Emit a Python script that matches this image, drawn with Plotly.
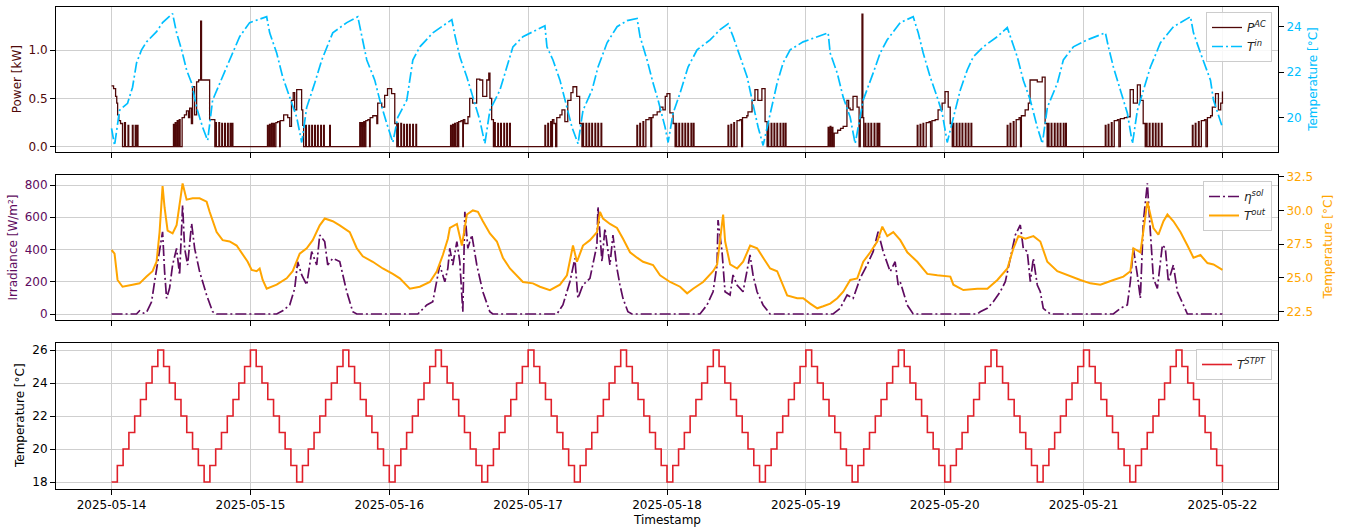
import pandas as pd
import plotly.graph_objects as go

START = pd.Timestamp("2025-05-14 00:00")

# ---------------- data (hours since 2025-05-14 00:00) ----------------
# AC power [kW] (step samples)
p_h = [0.00, 0.35, 0.70, 0.90, 1.05, 1.25, 1.55, 1.90, 2.25, 2.40, 2.85, 2.97, 3.60, 3.72, 4.10, 4.22, 4.45, 4.57,
       10.70, 10.85, 11.00, 11.12, 11.35, 11.47, 11.70, 11.85, 12.20, 12.60, 12.95, 13.30, 13.50, 13.80, 14.00, 14.35,
       14.70, 15.05, 15.40, 15.55, 16.95, 17.85, 18.00, 18.12, 18.55, 18.67, 19.05, 19.17, 19.55, 19.67, 20.05, 20.17,
       20.50, 20.62, 20.85, 20.97,
       26.95, 27.07, 27.30, 27.42, 27.65, 27.77, 28.00, 28.15, 28.40, 28.70, 29.05, 29.15, 29.75, 30.45, 30.80, 31.10,
       31.40, 31.65, 32.00, 32.85, 33.05, 33.20, 33.55, 33.67, 34.10, 34.22, 34.60, 34.72, 35.10, 35.22, 35.60, 35.72,
       36.15, 36.27, 36.65, 36.77, 37.70, 37.82,
       42.90, 43.02, 43.25, 43.37, 43.60, 43.72, 43.95, 44.30, 44.60, 44.70, 45.15, 45.85, 46.00, 46.70, 47.20, 47.70,
       48.40, 48.95, 49.30, 49.45, 49.57, 50.00, 50.12, 50.50, 50.62, 51.00, 51.12, 51.50, 51.62, 52.05, 52.17, 52.60,
       52.72,
       58.60, 58.72, 58.95, 59.07, 59.30, 59.42, 59.70, 59.82, 60.00, 60.40, 60.70, 60.80, 61.05, 61.60, 61.90, 62.40,
       63.10, 63.65, 64.15, 64.85, 65.20, 65.40, 65.70, 66.00, 66.20, 66.32, 66.75, 66.87, 67.25, 67.37, 67.80, 67.92,
       68.30, 68.42, 68.80, 68.92,
       74.90, 75.02, 75.40, 75.52, 75.90, 76.02, 76.20, 76.45, 76.75, 76.95, 77.50, 77.85, 78.35, 78.85, 79.40, 79.75,
       80.40, 80.90, 81.30, 81.45, 81.57, 82.00, 82.12, 82.50, 82.62, 83.00, 83.12, 83.55, 83.67, 84.05, 84.17, 84.60,
       84.72,
       90.80, 90.92, 91.30, 91.42, 91.85, 91.97, 92.35, 92.90, 93.20, 93.35, 93.60, 94.30, 94.80, 95.30, 95.70, 96.00,
       96.50, 97.05, 97.40, 97.55, 97.67, 98.05, 98.17, 98.60, 98.72, 99.10, 99.22, 99.60, 99.72, 100.15, 100.27,
       100.55, 100.67,
       106.55, 106.67, 107.05, 107.17, 107.55, 107.67, 108.10, 108.60, 108.90, 109.05, 109.80, 110.00, 110.70, 111.20,
       111.70, 112.40, 112.95, 113.30, 113.45, 113.57, 114.00, 114.12, 114.50, 114.62, 115.00, 115.12, 115.55, 115.67,
       116.05, 116.17, 116.45, 116.57,
       123.85, 123.97, 124.20, 124.32, 124.55, 124.67, 124.90, 125.50, 126.00, 126.45, 127.10, 127.40, 127.65, 128.15,
       128.85, 129.20, 129.40, 129.70, 129.85, 130.00, 130.25, 130.37, 130.75, 130.87, 131.25, 131.37, 131.80, 131.92,
       132.30, 132.42, 132.65, 132.77,
       139.25, 139.37, 139.75, 139.87, 140.25, 140.37, 140.80, 141.30, 141.55, 141.80, 142.35, 142.85, 143.55, 144.05,
       144.60, 144.95, 145.30, 145.45, 145.57, 146.00, 146.12, 146.50, 146.62, 147.00, 147.12, 147.55, 147.67, 148.05,
       148.17, 148.55, 148.67,
       154.80, 154.92, 155.30, 155.42, 155.85, 155.97, 156.35, 156.85, 157.10, 157.25, 157.90, 158.45, 158.75, 160.00,
       160.85, 161.35, 161.70, 161.90, 162.02, 162.40, 162.52, 162.95, 163.07, 163.45, 163.57, 163.95, 164.07, 164.50,
       164.62, 164.90, 165.02,
       171.75, 171.87, 172.25, 172.37, 172.80, 172.92, 173.30, 173.85, 174.10, 174.35, 175.05, 175.55, 176.05, 176.60,
       177.30, 177.80, 178.30, 178.65, 178.85, 178.97, 179.35, 179.47, 179.90, 180.02, 180.40, 180.52, 180.90, 181.02,
       181.45, 181.57,
       186.80, 186.92, 187.30, 187.42, 187.85, 187.97, 188.35, 188.90, 189.15, 189.40, 189.95, 190.25, 190.80, 191.30,
       191.70, 192.00]
p_kw = [.63, .60, .52, .45, .33, .27, .24, 0, .25, 0, .22, 0, .22, 0, .22, 0, .22, 0,
        .23, 0, .25, 0, .27, 0, .28, 0, .30, .33, .37, .30, .40, .24, .62, .33,
        .67, .69, 1.30, .69, .28, 0, .25, 0, .25, 0, .24, 0, .24, 0, .24, 0,
        .24, 0, .24, 0,
        .22, 0, .23, 0, .24, 0, .24, 0, .25, .26, 0, .27, .33, .30, .21, .48,
        .56, .38, .59, .38, .22, 0, .22, 0, .22, 0, .22, 0, .22, 0, .22, 0,
        .22, 0, .22, 0, .22, 0,
        .25, 0, .25, 0, .26, 0, .27, .28, 0, .30, .32, .24, .45, .41, .53, .60,
        .55, .24, 0, .24, 0, .24, 0, .23, 0, .23, 0, .23, 0, .23, 0, .23,
        0,
        .22, 0, .23, 0, .24, 0, .25, 0, .26, .27, 0, .28, .24, .31, .50, .45,
        .70, .69, .52, .69, .76, .50, .28, 0, .25, 0, .24, 0, .24, 0, .24, 0,
        .24, 0, .24, 0,
        .22, 0, .24, 0, .26, 0, .28, .24, 0, .30, .33, .38, .26, .48, .56, .62,
        .52, .24, 0, .24, 0, .24, 0, .24, 0, .24, 0, .24, 0, .24, 0, .24,
        0,
        .22, 0, .24, 0, .26, 0, .28, .30, 0, .30, .33, .36, .41, .38, .52, .55,
        .35, .24, 0, .24, 0, .24, 0, .24, 0, .24, 0, .24, 0, .24, 0,
        .24, 0,
        .22, 0, .23, 0, .25, 0, .27, .28, 0, .30, .32, .36, .48, .59,
        .48, .60, .26, 0, .24, 0, .24, 0, .24, 0, .24, 0, .24, 0,
        .24, 0, .24, 0,
        .20, 0, .21, 0, .20, 0, .14, .17, .19, .21, .48, .40, .38, .52,
        .41, 0, .30, 1.37, .30, 0, .24, 0, .24, 0, .24, 0, .24, 0,
        .24, 0, .24, 0,
        .22, 0, .23, 0, .24, 0, .25, .26, 0, .27, .28, .38, .45, .57,
        .41, .24, 0, .24, 0, .24, 0, .24, 0, .24, 0, .24, 0, .24,
        0, .24, 0,
        .22, 0, .24, 0, .26, 0, .28, .30, 0, .32, .38, .45, .69, .67,
        .72, .24, 0, .24, 0, .24, 0, .24, 0, .24, 0, .24, 0, .24,
        0, .24, 0,
        .22, 0, .23, 0, .25, 0, .27, .28, 0, .29, .30, .31, .59, .45,
        .64, .48, .24, 0, .24, 0, .24, 0, .24, 0, .24, 0, .24, 0,
        .24, 0,
        .22, 0, .24, 0, .26, 0, .27, .28, 0, .30, .32, .41, .55, .38,
        .45, .57]

# indoor temperature [°C]
tin_h = [0.00, 0.52, 1.38, 2.77, 3.63, 4.32, 5.19, 6.05, 7.78, 8.82, 10.55, 11.24, 12.11, 12.97, 13.84, 14.70, 15.74,
         16.61, 17.47, 18.68, 20.41, 22.14, 23.87, 26.81, 27.33, 28.54, 29.58, 30.79, 32.00, 32.87, 33.73, 35.12,
         36.33, 38.23, 40.66, 42.56, 43.25, 44.11, 45.49, 46.36, 47.57, 48.61, 49.47, 51.03, 52.07, 53.28, 55.53,
         58.47, 58.81, 59.33, 60.20, 61.41, 62.44, 63.65, 64.52, 65.39, 67.12, 68.33, 69.37, 71.10, 73.52, 74.90,
         75.25, 76.29, 77.50, 78.37, 79.58, 80.62, 81.48, 83.04, 84.08, 85.64, 87.37, 89.10, 90.83, 91.34, 92.56,
         93.59, 94.46, 95.67, 96.19, 97.05, 98.26, 99.64, 101.20, 103.45, 105.18, 106.56, 107.43, 108.64, 109.85,
         110.71, 111.75, 112.61, 113.82, 115.03, 116.07, 117.28, 119.53, 121.95, 123.85, 124.20, 125.41, 126.45,
         127.66, 128.52, 129.91, 131.64, 132.85, 134.06, 136.31, 138.55, 139.42, 140.28, 141.49, 142.70, 143.57,
         144.43, 145.47, 146.68, 147.89, 148.93, 150.66, 153.08, 154.81, 155.33, 156.54, 157.58, 158.79, 160.00,
         160.87, 161.74, 163.47, 164.50, 166.23, 168.65, 171.77, 172.29, 173.15, 174.36, 175.57, 176.44, 177.30,
         178.34, 179.55, 181.28, 183.53, 186.47, 186.99, 188.20, 189.93, 190.45, 191.66, 192.00]
tin_c = [19.51, 18.76, 20.31, 20.62, 21.33, 22.40, 22.98, 23.33, 23.78, 24.18, 24.58, 23.73, 22.98, 22.09, 21.51,
         20.44, 19.56, 18.98, 20.76, 21.51, 22.53, 23.56, 24.18, 24.44, 23.73, 22.84, 21.78, 20.89, 20.00, 18.89,
         20.44, 21.51, 22.53, 23.73, 24.18, 24.44, 23.56, 22.53, 21.64, 20.76, 19.73, 18.89, 20.00, 20.76, 22.53,
         23.11, 23.73, 24.22, 24.31, 23.64, 22.67, 21.78, 20.89, 19.87, 18.84, 20.31, 21.20, 22.22, 23.11, 23.56,
         23.87, 24.04, 23.11, 22.53, 21.64, 20.76, 19.56, 18.84, 20.31, 21.20, 22.22, 23.29, 24.00, 24.27, 24.36,
         23.56, 22.53, 21.51, 20.76, 19.56, 18.89, 20.18, 21.07, 22.22, 22.98, 23.42, 23.87, 24.13, 23.56, 22.67,
         21.78, 20.76, 19.56, 18.76, 20.18, 21.51, 22.40, 22.98, 23.33, 23.56, 23.73, 22.84, 21.96, 20.89, 20.00,
         18.84, 20.76, 21.96, 22.84, 23.42, 24.18, 24.44, 23.73, 22.84, 21.78, 20.89, 20.18, 18.89, 20.00, 21.20,
         22.09, 22.67, 23.11, 23.56, 23.96, 23.56, 22.67, 21.64, 20.76, 19.56, 18.84, 20.44, 21.51, 22.53, 23.11,
         23.42, 23.73, 23.11, 22.22, 21.20, 20.18, 18.84, 20.31, 21.20, 22.22, 23.29, 24.00, 24.44, 23.73, 22.84,
         21.64, 20.76, 19.87, 19.56]

# solar irradiance [W/m²]
sol_h = [0.00, 4.32, 4.84, 5.54, 6.05, 6.92, 7.44, 8.30, 8.82, 9.17, 9.51, 10.03, 10.55, 11.24, 11.76, 12.28, 12.63,
         13.15, 13.84, 14.36, 15.22, 16.43, 17.47, 18.16,
         28.54, 29.58, 30.79, 31.66, 32.17, 32.87, 33.73, 34.59, 35.46, 35.98, 36.84, 37.36, 38.23, 39.44, 39.96,
         40.65, 41.69, 42.38,
         52.93, 54.49, 55.52, 56.22, 56.73, 57.60, 58.12, 58.46, 58.98, 59.68, 60.19, 60.71, 61.06, 61.58, 62.27,
         63.13, 64.17, 65.38, 65.90,
         76.97, 78.01, 79.22, 80.08, 80.60, 81.47, 82.68, 83.89, 84.07, 84.76, 85.27, 86.14, 86.66, 87.35, 87.87,
         88.39, 89.25, 89.94,
         101.70, 102.92, 103.96, 104.65, 104.82, 105.51, 106.03, 106.90, 107.41, 108.10, 109.14, 110.35, 110.87,
         111.56, 112.60, 113.81,
         124.71, 125.92, 127.13, 128.17, 129.38, 130.59, 131.63, 132.49, 133.36, 134.57, 135.43, 135.95, 136.30,
         137.51, 138.55,
         149.62, 150.14, 151.35, 152.39, 153.60, 154.47, 155.33, 156.20, 157.06, 157.58, 158.27, 158.79, 159.31,
         160.00, 160.52, 161.03, 162.25,
         173.14, 174.35, 175.56, 176.08, 176.60, 177.29, 177.81, 178.33, 179.02, 179.54, 180.06, 180.75, 181.62,
         182.13, 182.65, 183.52, 184.21, 185.25, 185.94, 192.00]
sol_w = [0, 0, 20, 5, 10, 76, 200, 407, 510, 263, 97, 159, 304, 407, 242, 676, 407, 304, 562, 407, 263, 118, 14, 0,
         0, 20, 56, 159, 324, 242, 180, 387, 304, 490, 449, 304, 345, 325, 242, 138, 14, 0,
         0, 56, 76, 200, 304, 200, 283, 407, 304, 449, 325, 14, 634, 407, 490, 304, 138, 14, 0,
         0, 56, 200, 345, 97, 180, 221, 428, 666, 324, 531, 304, 490, 283, 180, 97, 14, 0,
         0, 56, 138, 304, 583, 387, 138, 118, 242, 180, 138, 366, 242, 138, 56, 0,
         0, 35, 118, 97, 221, 304, 387, 510, 387, 263, 324, 180, 200, 56, 0,
         0, 14, 35, 76, 138, 200, 345, 490, 552, 407, 387, 200, 345, 180, 138, 35, 0,
         0, 35, 56, 200, 407, 242, 97, 573, 810, 510, 221, 159, 428, 407, 200, 304, 138, 56, 0, 0]

# outdoor temperature [°C]
tout_h = [0.00, 0.52, 1.04, 1.90, 3.63, 4.84, 6.05, 7.09, 7.78, 8.30, 8.82, 9.17, 9.69, 10.55, 11.24, 11.76, 12.28,
          12.97, 14.01, 15.22, 16.43, 16.95, 18.16, 19.20, 20.41, 21.62, 22.66, 23.53, 24.22, 25.08, 25.60, 26.12,
          26.81, 28.54, 30.27, 31.31, 32.52, 33.73, 34.77, 35.98, 36.85, 38.23, 39.44, 41.17, 42.38, 43.42, 45.15,
          46.88, 48.61, 49.82, 51.55, 53.28, 55.01, 56.23, 57.26, 58.13, 58.47, 59.69, 60.55, 61.41, 62.45, 63.32,
          64.18, 65.39, 66.60, 67.64, 68.85, 70.06, 71.10, 72.83, 74.04, 75.77, 77.50, 78.71, 79.75, 80.44, 81.48,
          82.69, 83.90, 84.42, 84.94, 86.15, 87.36, 88.40, 89.61, 90.82, 91.86, 93.59, 94.80, 96.53, 98.26, 99.48,
          100.51, 102.24, 103.97, 104.67, 105.18, 105.70, 106.05, 106.91, 108.12, 109.16, 110.37, 111.58, 112.62,
          113.83, 115.04, 115.56, 116.77, 118.50, 119.54, 120.75, 121.97, 123.00, 124.21, 125.43, 126.46, 127.67,
          128.88, 129.92, 131.13, 132.34, 133.21, 134.07, 135.11, 136.32, 137.53, 139.26, 140.99, 142.72, 144.97,
          145.49, 147.22, 149.64, 151.37, 153.10, 154.83, 155.87, 156.73, 157.94, 159.33, 160.52, 161.73, 163.46,
          165.19, 167.44, 169.17, 170.90, 173.15, 174.88, 176.09, 176.61, 177.82, 179.03, 180.07, 180.93, 181.80,
          182.49, 183.53, 184.74, 185.95, 186.99, 188.20, 189.41, 190.45, 192.00]
tout_c = [27.07, 26.80, 24.85, 24.35, 24.50, 24.60, 25.10, 25.50, 26.20, 28.40, 31.80, 30.20, 28.50, 28.30, 28.90,
          30.40, 32.00, 30.80, 30.90, 30.90, 30.65, 29.90, 28.40, 27.80, 27.70, 27.40, 26.70, 26.20, 25.60, 25.50,
          25.70, 24.85, 24.20, 24.50, 24.97, 25.50, 26.80, 27.20, 27.80, 28.90, 29.40, 29.20, 28.90, 28.40, 27.20,
          26.60, 26.20, 25.70, 25.30, 24.97, 24.20, 24.35, 24.70, 25.50, 26.70, 27.90, 28.70, 29.00, 27.40, 29.70,
          30.00, 29.90, 29.20, 28.30, 27.70, 26.50, 25.70, 25.20, 24.70, 24.60, 24.35, 24.10, 24.50, 25.20, 27.40,
          26.20, 27.40, 27.80, 28.40, 29.90, 29.40, 29.00, 28.70, 27.90, 26.90, 26.50, 26.20, 25.96, 25.20, 24.70,
          24.35, 23.86, 24.20, 24.70, 25.50, 26.00, 27.90, 29.70, 27.70, 26.00, 25.70, 26.20, 27.40, 27.20, 26.50,
          25.70, 25.50, 24.97, 23.70, 23.50, 23.50, 23.10, 22.75, 22.90, 23.10, 23.50, 23.98, 24.85, 24.97, 26.20,
          26.90, 27.70, 28.80, 28.10, 28.40, 27.80, 26.90, 26.20, 25.30, 25.20, 25.10, 24.50, 24.10, 24.20, 24.20,
          24.85, 25.70, 27.20, 28.10, 27.90, 28.10, 27.70, 26.20, 25.50, 25.20, 24.85, 24.60, 24.50, 24.85, 25.10,
          25.50, 27.20, 26.90, 30.65, 28.70, 28.20, 29.20, 29.70, 29.20, 28.40, 27.40, 26.50, 26.70, 26.10, 26.00,
          25.60]

# hourly setpoint [°C]
stpt_c = [18, 19, 20, 21, 22, 23, 24, 25, 26, 25, 24, 23, 22, 21, 20, 19,
          18, 19, 20, 21, 22, 23, 24, 25, 26, 25, 24, 23, 22, 21, 20, 19,
          18, 19, 20, 21, 22, 23, 24, 25, 26, 25, 24, 23, 22, 21, 20, 19,
          18, 19, 20, 21, 22, 23, 24, 25, 26, 25, 24, 23, 22, 21, 20, 19,
          18, 19, 20, 21, 22, 23, 24, 25, 26, 25, 24, 23, 22, 21, 20, 19,
          18, 19, 20, 21, 22, 23, 24, 25, 26, 25, 24, 23, 22, 21, 20, 19,
          18, 19, 20, 21, 22, 23, 24, 25, 26, 25, 24, 23, 22, 21, 20, 19,
          18, 19, 20, 21, 22, 23, 24, 25, 26, 25, 24, 23, 22, 21, 20, 19,
          18, 19, 20, 21, 22, 23, 24, 25, 26, 25, 24, 23, 22, 21, 20, 19,
          18, 19, 20, 21, 22, 23, 24, 25, 26, 25, 24, 23, 22, 21, 20, 19,
          18, 19, 20, 21, 22, 23, 24, 25, 26, 25, 24, 23, 22, 21, 20, 19,
          18, 19, 20, 21, 22, 23, 24, 25, 26, 25, 24, 23, 22, 21, 20, 19,
          18]
stpt_h = list(range(len(stpt_c)))

date_ticks = ["2025-05-14", "2025-05-15", "2025-05-16", "2025-05-17", "2025-05-18",
              "2025-05-19", "2025-05-20", "2025-05-21", "2025-05-22"]

# ---------------- styling ----------------
C_P = "#4f0808"
C_TIN = "#00bfff"
C_SOL = "#5e0b60"
C_TOUT = "#ffa500"
C_STPT = "#e0202a"
GRID = "#cfcfcf"
FONT = "DejaVu Sans"
FS = 12
W, H = 1345, 531


def ts(hours):
    return [START + pd.Timedelta(hours=float(h)) for h in hours]


def pair(h, v):
    n = min(len(h), len(v))
    return ts(h[:n]), v[:n]


def py(p):
    return 1 - p / H


XD = [56 / W, 1278 / W]
Y1 = [py(152.3), py(7.3)]
Y2 = [py(320), py(175)]
Y3 = [py(489), py(343.3)]

DASHDOT = "11px,3px,2px,3px"

fig = go.Figure()
x, y = pair(p_h, p_kw)
fig.add_trace(go.Scatter(x=x, y=y, mode="lines", name="<i>P</i><sup><i>AC</i></sup>",
                         line=dict(color=C_P, width=1.3, shape="hv"), xaxis="x2", yaxis="y2", legend="legend"))
x, y = pair(tin_h, tin_c)
fig.add_trace(go.Scatter(x=x, y=y, mode="lines", name="<i>T</i><sup><i>in</i></sup>",
                         line=dict(color=C_TIN, width=1.7, dash=DASHDOT), xaxis="x2", yaxis="y3", legend="legend"))
x, y = pair(sol_h, sol_w)
fig.add_trace(go.Scatter(x=x, y=y, mode="lines", name="<i>η</i><sup><i>sol</i></sup>",
                         line=dict(color=C_SOL, width=1.7, dash=DASHDOT), xaxis="x3", yaxis="y4", legend="legend2"))
x, y = pair(tout_h, tout_c)
fig.add_trace(go.Scatter(x=x, y=y, mode="lines", name="<i>T</i><sup><i>out</i></sup>",
                         line=dict(color=C_TOUT, width=2.0), xaxis="x3", yaxis="y5", legend="legend2"))
x, y = pair(stpt_h, stpt_c)
fig.add_trace(go.Scatter(x=x, y=y, mode="lines", name="<i>T</i><sup><i>STPT</i></sup>",
                         line=dict(color=C_STPT, width=1.6, shape="hv"), xaxis="x", yaxis="y", legend="legend3"))

xrange = [START - pd.Timedelta(hours=9.6), START + pd.Timedelta(hours=192 + 9.6)]

xcommon = dict(type="date", range=xrange, domain=XD, tickvals=date_ticks, ticktext=date_ticks,
               showgrid=True, gridcolor=GRID, gridwidth=1, showline=True, linecolor="black", linewidth=1,
               mirror=True, ticks="outside", ticklen=5, tickwidth=1, tickcolor="black", zeroline=False,
               tickfont=dict(family=FONT, size=FS, color="black"), automargin=False)

ycommon = dict(showline=True, linecolor="black", linewidth=1, mirror=True, ticks="outside", ticklen=5,
               tickwidth=1, tickcolor="black", zeroline=False, automargin=False, showgrid=True,
               gridcolor=GRID, gridwidth=1)
yright = dict(showline=False, ticks="outside", ticklen=5, tickwidth=1, tickcolor="black", zeroline=False,
              automargin=False, showgrid=False, side="right")

legend_common = dict(bgcolor="rgba(255,255,255,0.85)", bordercolor="#cccccc", borderwidth=1,
                     font=dict(family=FONT, size=FS, color="#222222"), xanchor="right", yanchor="top",
                     itemwidth=30, tracegroupgap=0)

fig.update_layout(
    width=W, height=H, margin=dict(l=0, r=0, t=0, b=0), paper_bgcolor="white", plot_bgcolor="white",
    font=dict(family=FONT, size=FS, color="black"), showlegend=True,
    xaxis=dict(**xcommon, anchor="y", showticklabels=True),
    xaxis2=dict(**xcommon, anchor="y2", matches="x", showticklabels=False),
    xaxis3=dict(**xcommon, anchor="y4", matches="x", showticklabels=False),
    yaxis=dict(**ycommon, domain=Y3, anchor="x", range=[17.576, 26.406], tickvals=[18, 20, 22, 24, 26],
               tickfont=dict(family=FONT, size=FS, color="black")),
    yaxis2=dict(**ycommon, domain=Y1, anchor="x2", range=[-0.058, 1.442], tickvals=[0, 0.5, 1.0],
                ticktext=["0.0", "0.5", "1.0"], tickfont=dict(family=FONT, size=FS, color=C_P)),
    yaxis3=dict(**yright, overlaying="y2", anchor="x2", domain=Y1, range=[18.456, 24.856], tickvals=[20, 22, 24],
                tickfont=dict(family=FONT, size=FS, color=C_TIN)),
    yaxis4=dict(**ycommon, domain=Y2, anchor="x3", range=[-37.2, 862], tickvals=[0, 200, 400, 600, 800],
                tickfont=dict(family=FONT, size=FS, color=C_SOL)),
    yaxis5=dict(**yright, overlaying="y4", anchor="x3", domain=Y2, range=[21.885, 32.626],
                tickvals=[22.5, 25, 27.5, 30, 32.5], ticktext=["22.5", "25.0", "27.5", "30.0", "32.5"],
                tickfont=dict(family=FONT, size=FS, color=C_TOUT)),
    legend=dict(**legend_common, x=1272 / W, y=py(12)),
    legend2=dict(**legend_common, x=1272 / W, y=py(181)),
    legend3=dict(**legend_common, x=1272 / W, y=py(349)),
)

titles = [
    ("Power [kW]", 16.5, 79.8, C_P),
    ("Temperature [°C]", 1313, 79.8, C_TIN),
    ("Irradiance [W/m²]", 12, 247.5, C_SOL),
    ("Temperature [°C]", 1327, 247.5, C_TOUT),
    ("Temperature [°C]", 20, 416, "black"),
]
for txt, px_, py_, col in titles:
    fig.add_annotation(text=txt, x=px_ / W, y=py(py_), xref="paper", yref="paper", showarrow=False,
                       textangle=-90, xanchor="center", yanchor="middle",
                       font=dict(family=FONT, size=FS, color=col))
fig.add_annotation(text="Timestamp", x=667 / W, y=py(520), xref="paper", yref="paper", showarrow=False,
                   xanchor="center", yanchor="middle", font=dict(family=FONT, size=FS, color="black"))

fig.write_html("out.html", include_plotlyjs=True, config={"displayModeBar": False},
               post_script="document.body.style.margin='0';document.body.style.overflow='hidden';")
